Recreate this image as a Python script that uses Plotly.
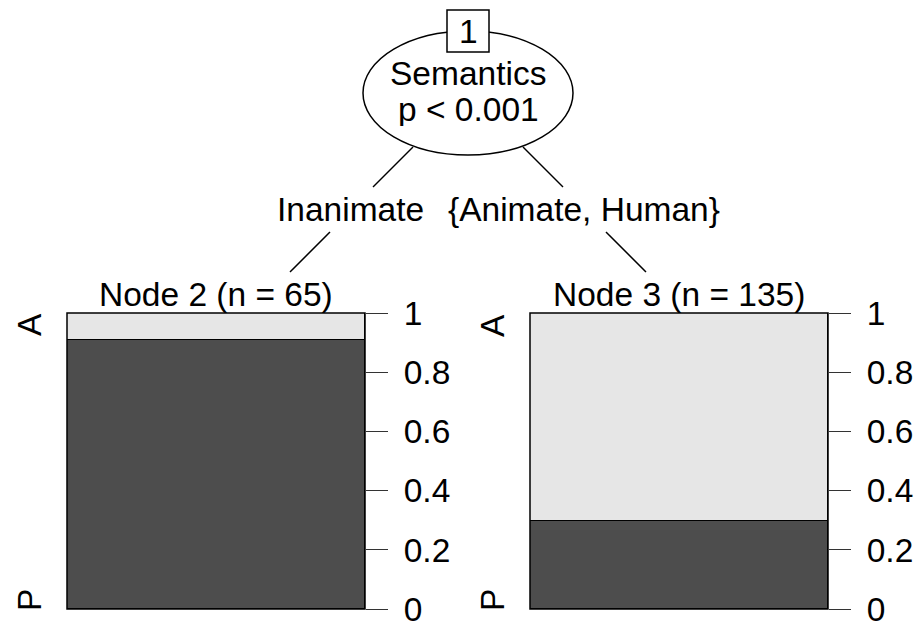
import plotly.graph_objects as go

# ---- data ----
categories = ["P", "A"]
node_ids = [2, 3]
node_n = [65, 135]
prop_P = [0.908, 0.296]
prop_A = [0.092, 0.704]
split_id = 1
split_var = "Semantics"
split_p = "p < 0.001"
edge_labels = ["Inanimate", "{Animate, Human}"]
tick_vals = [0, 0.2, 0.4, 0.6, 0.8, 1]
tick_text = ["0", "0.2", "0.4", "0.6", "0.8", "1"]

W, H = 922, 628
DARK = "#4D4D4D"
LIGHT = "#E6E6E6"
FONT = "Liberation Sans, Arial, sans-serif"
FS = 33.5


def px(x):
    return x / W


def py(y):
    return 1 - y / H


fig = go.Figure()

panels = [(67, 365), (530, 828)]
ytop, ybot = 313, 609
axnames = [("x", "y"), ("x2", "y2")]

for i, (xl, xr) in enumerate(panels):
    xa, ya = axnames[i]
    fig.add_trace(go.Bar(x=[0], y=[prop_P[i]], name=categories[0], xaxis=xa, yaxis=ya,
                         marker=dict(color=DARK, line=dict(color="black", width=1)),
                         showlegend=False, hoverinfo="skip"))
    fig.add_trace(go.Bar(x=[0], y=[prop_A[i]], name=categories[1], xaxis=xa, yaxis=ya,
                         marker=dict(color=LIGHT, line=dict(color="black", width=1)),
                         showlegend=False, hoverinfo="skip"))

layout_axes = {}
for i, (xl, xr) in enumerate(panels):
    suffix = "" if i == 0 else str(i + 1)
    layout_axes["xaxis" + suffix] = dict(domain=[px(xl), px(xr)], range=[-0.5, 0.5],
                                         visible=False, fixedrange=True, automargin=False)
    layout_axes["yaxis" + suffix] = dict(
        domain=[py(ybot), py(ytop)], range=[0, 1], side="right",
        anchor="x" + suffix, tickvals=tick_vals, ticktext=tick_text,
        ticks="outside", ticklen=22, tickwidth=1.2, tickcolor="#333",
        showline=False,
        showgrid=False, zeroline=False, ticklabelstandoff=9, automargin=False,
        tickfont=dict(family=FONT, size=FS, color="black"), fixedrange=True)

shapes = []
# panel borders
for i in range(2):
    xa, ya = axnames[i]
    shapes.append(dict(type="rect", xref=xa + " domain", yref=ya + " domain",
                       x0=0, x1=1, y0=0, y1=1, line=dict(color="black", width=1.5)))

# inner node ellipse
cx, cy, rx, ry = 468, 93, 105, 62
shapes.append(dict(type="circle", xref="paper", yref="paper",
                   x0=px(cx - rx), x1=px(cx + rx), y0=py(cy + ry), y1=py(cy - ry),
                   line=dict(color="black", width=1.5), fillcolor="white"))
# id box
shapes.append(dict(type="rect", xref="paper", yref="paper",
                   x0=px(447), x1=px(489), y0=py(52), y1=py(10),
                   line=dict(color="black", width=1.5), fillcolor="white"))
# edges
segs = [((413, 147), (373, 187)), ((330, 232), (290, 272)),
        ((523, 147), (563, 187)), ((606, 232), (646, 272))]
for (x0, y0), (x1, y1) in segs:
    shapes.append(dict(type="line", xref="paper", yref="paper",
                       x0=px(x0), y0=py(y0), x1=px(x1), y1=py(y1),
                       line=dict(color="black", width=1.5)))

annotations = []


def ann(text, x, y, angle=0, h=None):
    d = dict(text=text, x=px(x), y=py(y), xref="paper", yref="paper",
             xanchor="center", yanchor="middle", showarrow=False,
             textangle=angle, borderpad=0,
             font=dict(family=FONT, size=FS, color="black"))
    if h is not None:
        d["height"] = h
    annotations.append(d)


ann(str(split_id), 468, 31.5)
ann(split_var, 468, 74, h=33)
ann(split_p.replace("<", "&lt;"), 468, 109, h=33)
ann(edge_labels[0], 350, 209.5)
ann(edge_labels[1], 584, 209.5)
for i, (xl, xr) in enumerate(panels):
    ann(f"Node {node_ids[i]} (n = {node_n[i]})", (xl + xr) / 2, 294)
    ann(categories[1], xl - 38, 325, -90)
    ann(categories[0], xl - 38, 600, -90)

fig.update_layout(
    width=W, height=H, margin=dict(l=0, r=0, t=0, b=0, pad=0, autoexpand=False),
    paper_bgcolor="white", plot_bgcolor="white",
    barmode="stack", bargap=0, showlegend=False,
    shapes=shapes, annotations=annotations, **layout_axes)

fig.write_html(
    "out.html",
    config={"displayModeBar": False},
    post_script="document.body.style.margin='0';document.body.style.overflow='hidden';",
)
